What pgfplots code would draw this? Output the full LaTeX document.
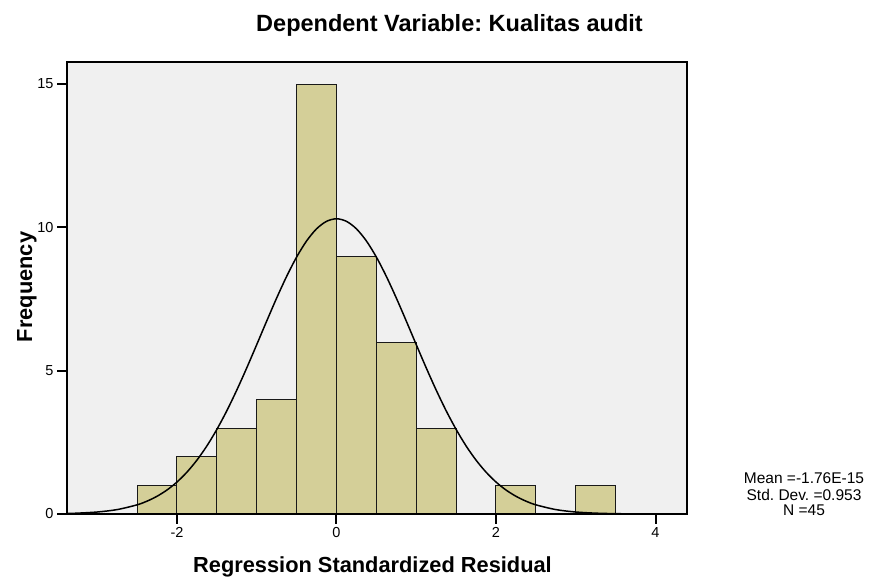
\documentclass[border=0pt]{standalone}
\usepackage{pgfplots}
\pgfplotsset{compat=1.18}
\usepackage{fontspec}
\setmainfont{Liberation Sans}
\definecolor{bgc}{RGB}{240,240,240}
\definecolor{barc}{RGB}{212,207,152}
\begin{document}
\frenchspacing
\begin{tikzpicture}
\path[use as bounding box] (0,0) rectangle (870bp,577bp);
\begin{axis}[
  at={(67bp,63bp)}, anchor=south west,
  scale only axis, width=620bp, height=452bp,
  xmin=-3.379, xmax=4.395, ymin=0, ymax=15.77,
  axis background/.style={fill=bgc},
  axis on top,
  xtick={-2,0,2,4}, ytick={0,5,10,15},
  xtick pos=left, ytick pos=left,
  tick align=outside, major tick length=10bp,
  tick style={line width=2bp, black},
  axis line style={line width=1.5bp},
  ticklabel style={font=\fontsize{14.5bp}{16bp}\selectfont},
  /pgf/number format/assume math mode=true,
]
\addplot[ybar interval, fill=barc, draw=black!90, line width=1bp] coordinates {
(-2.5,1) (-2,2) (-1.5,3) (-1,4) (-0.5,15) (0,9) (0.5,6) (1,3) (1.5,0) (2,1) (2.5,0) (3,1) (3.5,0)
};
\addplot[black, line width=1.5bp, smooth, no markers] coordinates {
(-3.379,0.0181) (-3.25,0.0291) (-3.0,0.0694) (-2.75,0.154) (-2.5,0.320) (-2.375,0.449) (-2.25,0.619) (-2.125,0.838)
(-2.0,1.116) (-1.875,1.461) (-1.75,1.879) (-1.625,2.375) (-1.5,2.951) (-1.375,3.603) (-1.25,4.324) (-1.125,5.099)
(-1.0,5.910) (-0.875,6.732) (-0.75,7.536) (-0.625,8.290) (-0.5,8.964) (-0.375,9.526) (-0.25,9.949) (-0.125,10.211)
(0,10.30)
(0.125,10.211) (0.25,9.949) (0.375,9.526) (0.5,8.964) (0.625,8.290) (0.75,7.536) (0.875,6.732) (1.0,5.910)
(1.125,5.099) (1.25,4.324) (1.375,3.603) (1.5,2.951) (1.625,2.375) (1.75,1.879) (1.875,1.461) (2.0,1.116)
(2.125,0.838) (2.25,0.619) (2.375,0.449) (2.5,0.320) (2.75,0.154) (3.0,0.0694) (3.25,0.0291) (3.5,0.0114)
(3.75,0.0042) (4.0,0.0014) (4.25,0.00045) (4.395,0.00023)
};
\end{axis}
\node[anchor=base, font=\bfseries\fontsize{23.5bp}{26bp}\selectfont] at (449.5bp,545bp) {Dependent Variable: Kualitas audit};
\node[anchor=base, font=\bfseries\fontsize{21.8bp}{24bp}\selectfont] at (372.5bp,5bp) {Regression Standardized Residual};
\node[anchor=base, rotate=90, font=\bfseries\fontsize{21.8bp}{24bp}\selectfont] at (32bp,290bp) {Frequency};
\node[anchor=base, font=\fontsize{15.5bp}{17bp}\selectfont] at (804bp,93bp) {Mean =-1.76E-15};
\node[anchor=base, font=\fontsize{15.5bp}{17bp}\selectfont] at (804bp,76bp) {Std. Dev. =0.953};
\node[anchor=base, font=\fontsize{15.5bp}{17bp}\selectfont] at (804bp,61bp) {N =45};
\end{tikzpicture}
\end{document}
